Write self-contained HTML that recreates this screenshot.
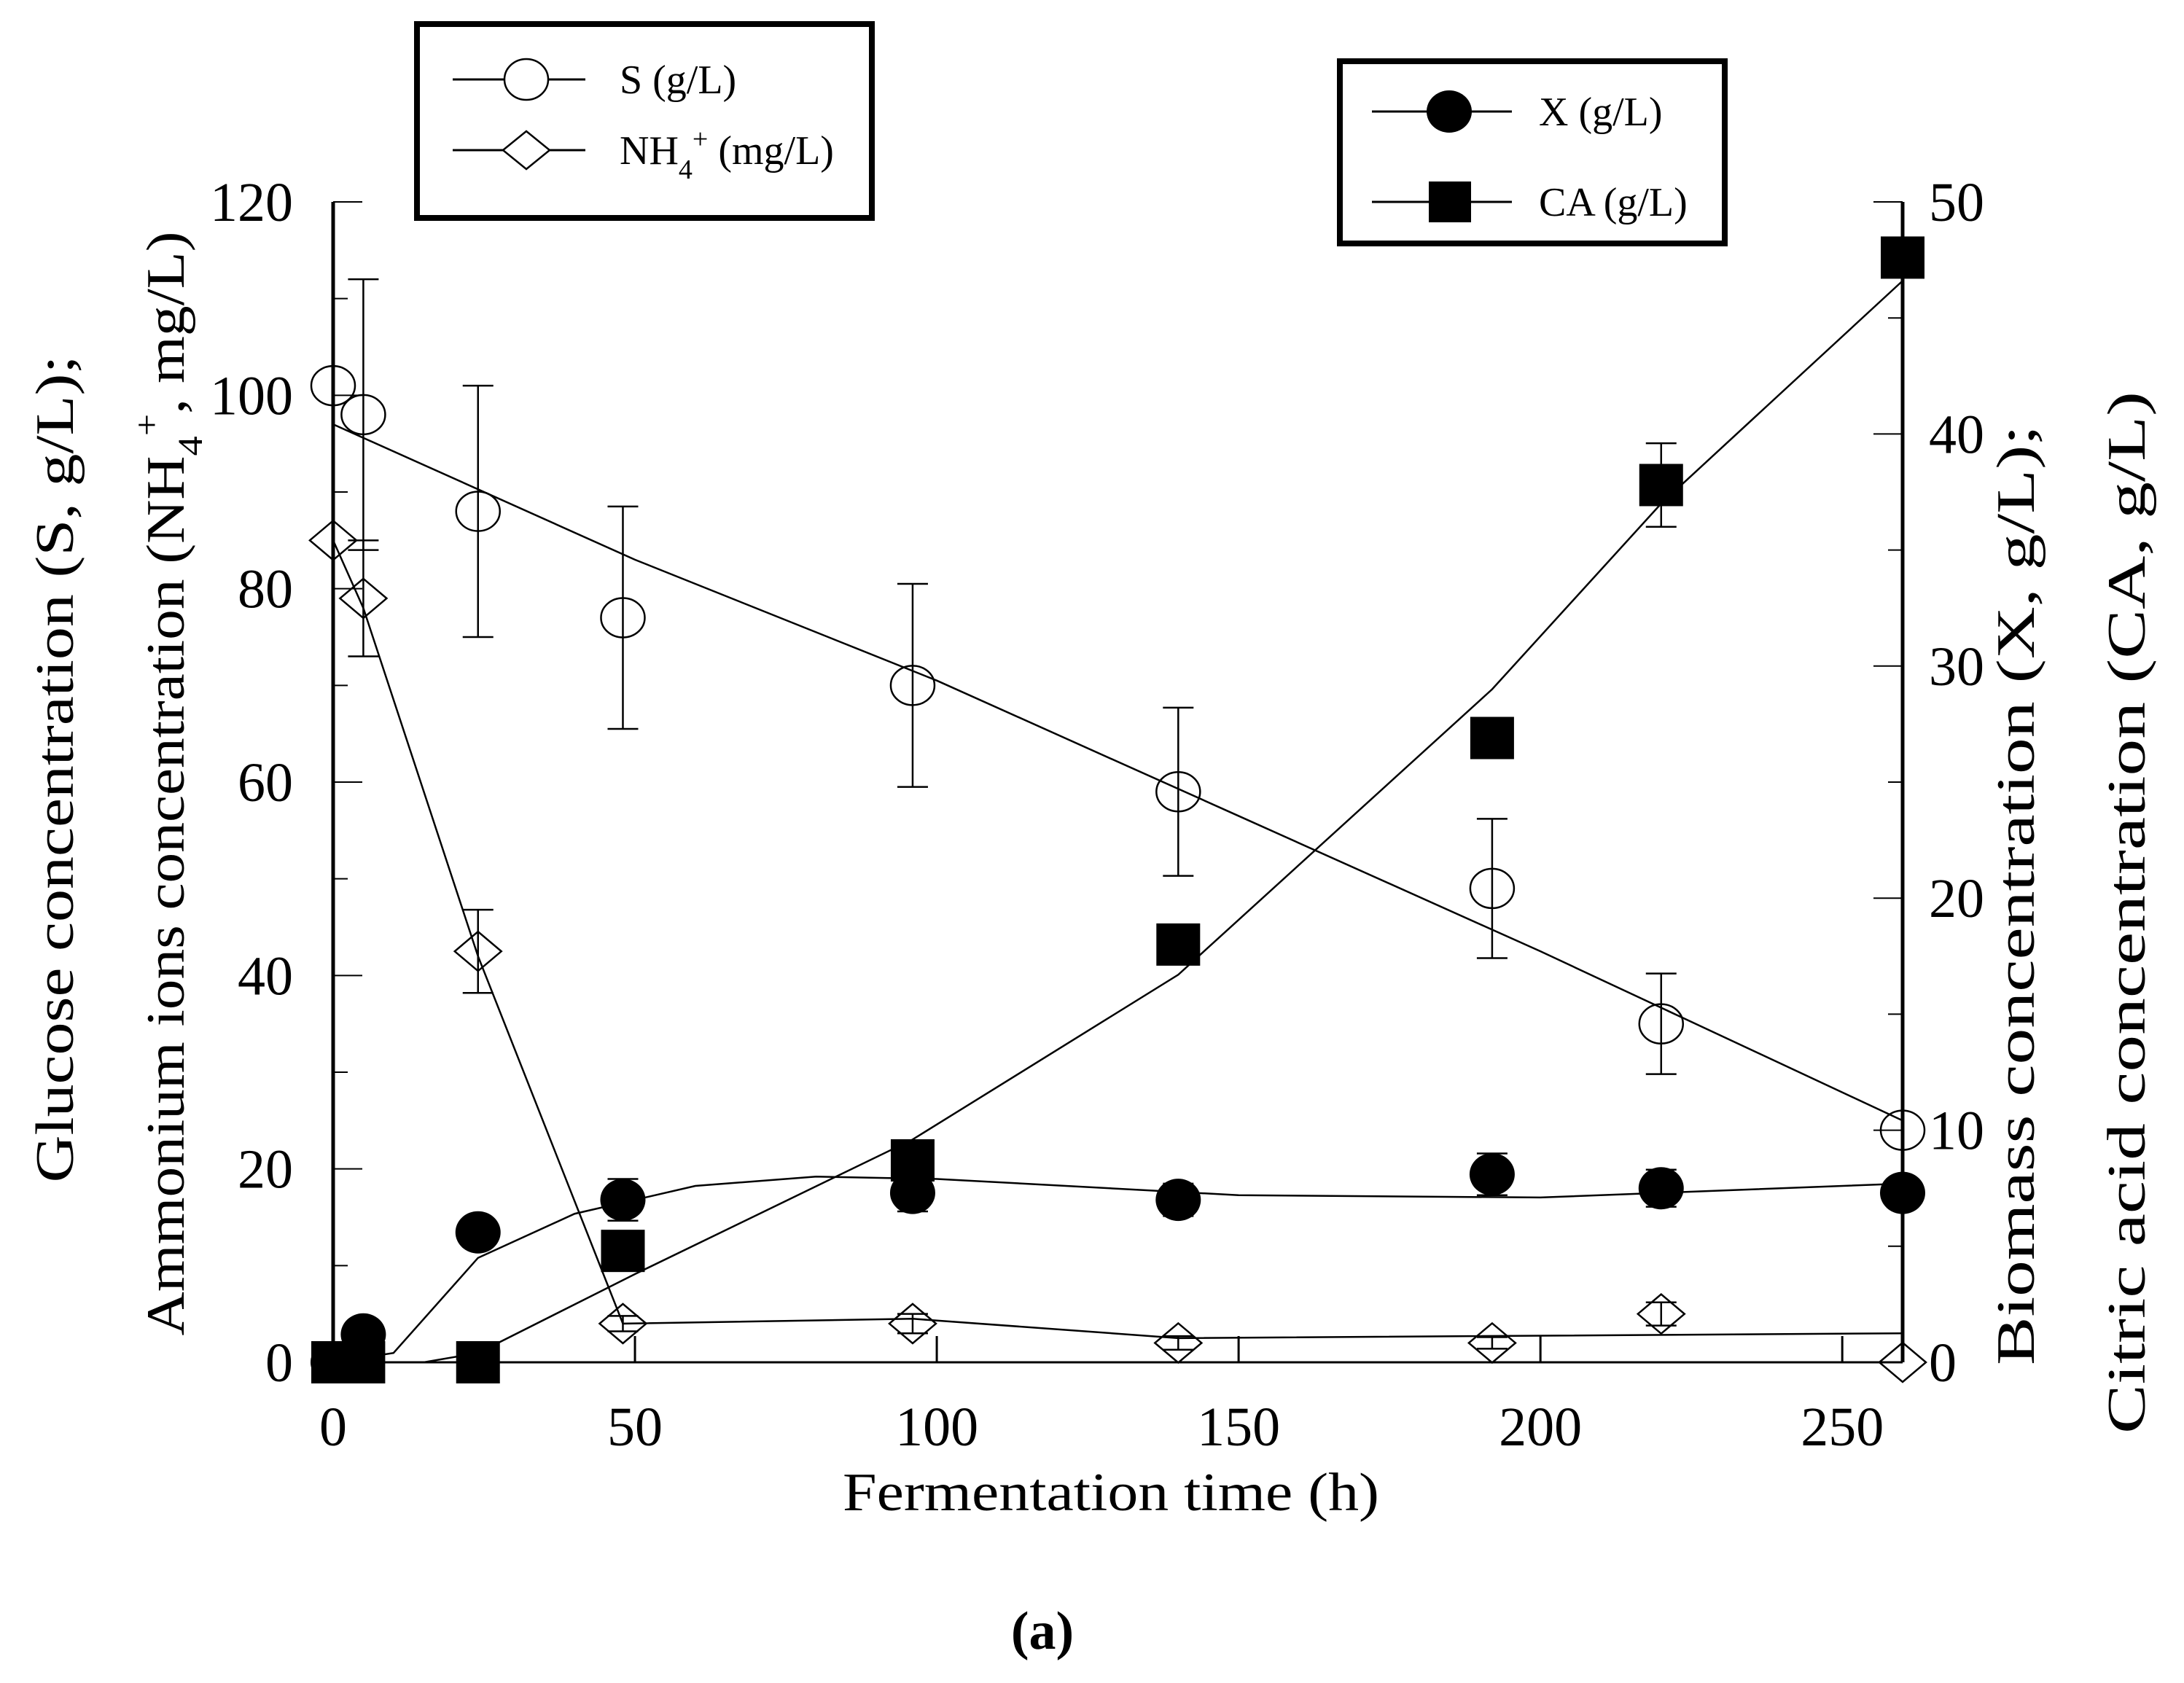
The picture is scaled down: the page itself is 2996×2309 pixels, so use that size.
<!DOCTYPE html>
<html><head><meta charset="utf-8"><style>
html,body{margin:0;padding:0;background:#fff;}
svg{display:block;}
text{font-family:"Liberation Serif",serif;fill:#000;}
</style></head><body>
<svg id="chart" width="2996" height="2309" viewBox="0 0 2996 2309" xmlns="http://www.w3.org/2000/svg">
<g id="axes"></g>
<g id="lines"></g>
<g id="marks"></g>
<text transform="translate(100,1055) rotate(-90)" text-anchor="middle" font-size="74" textLength="1135" lengthAdjust="spacingAndGlyphs">Glucose concentration (S, g/L);</text>
<text transform="translate(252,1075) rotate(-90)" text-anchor="middle" font-size="74" textLength="1515" lengthAdjust="spacingAndGlyphs">Ammonium ions concentration (NH<tspan font-size="48" dy="25">4</tspan><tspan font-size="48" dy="-60">+</tspan><tspan dy="35">, mg/L)</tspan></text>
<text transform="translate(2790,1228) rotate(-90)" text-anchor="middle" font-size="74" textLength="1290" lengthAdjust="spacingAndGlyphs">Biomass concentration (X, g/L);</text>
<text transform="translate(2942,1252) rotate(-90)" text-anchor="middle" font-size="74" textLength="1430" lengthAdjust="spacingAndGlyphs">Citric acid concentration (CA, g/L)</text>
<text x="1524" y="2072" text-anchor="middle" font-size="74" textLength="736" lengthAdjust="spacingAndGlyphs">Fermentation time (h)</text>
<text x="1430" y="2262" text-anchor="middle" font-size="74" font-weight="bold">(a)</text>
<g>
<rect x="572" y="33" width="624" height="266" fill="none" stroke="#000" stroke-width="8"/>
<line x1="621" y1="109" x2="803" y2="109" stroke="#000" stroke-width="3"/>
<ellipse cx="722" cy="109" rx="30" ry="28" fill="#fff" stroke="#000" stroke-width="2.5"/>
<text x="850" y="128" font-size="56">S (g/L)</text>
<line x1="621" y1="206" x2="803" y2="206" stroke="#000" stroke-width="3"/>
<polygon points="690,206 722,180 754,206 722,232" fill="#fff" stroke="#000" stroke-width="2.5"/>
<text x="850" y="225" font-size="56">NH<tspan font-size="38" dy="20">4</tspan><tspan font-size="38" dy="-42">+</tspan><tspan dy="22"> (mg/L)</tspan></text>
</g>
<g>
<rect x="1838" y="84" width="528" height="250" fill="none" stroke="#000" stroke-width="8"/>
<line x1="1882" y1="153" x2="2074" y2="153" stroke="#000" stroke-width="3"/>
<ellipse cx="1988" cy="153" rx="31" ry="29" fill="#000"/>
<text x="2111" y="172" font-size="56">X (g/L)</text>
<line x1="1882" y1="277" x2="2074" y2="277" stroke="#000" stroke-width="3"/>
<rect x="1960" y="249" width="58" height="56" fill="#000"/>
<text x="2111" y="296" font-size="56">CA (g/L)</text>
</g>
</svg>
<script>
const times=[0,5,24,48,96,140,192,220,260];
const sVals=[101,98,88,77,70,59,49,35,24];
const sErr=[0,14,13,11.5,10.5,8.7,7.2,5.2,0];
const nhVals=[85,79,42.5,4,4,2,2,5,0];
const nhErr=[0,6,4.3,0.8,1,0.7,0.6,1.2,0];
const xVals=[0,1.2,5.6,7.0,7.3,7.0,8.1,7.5,7.3];
const xErr=[0,0,0,0.9,0.8,0.7,0.9,0.8,0];
const caVals=[0,0,0,4.8,8.7,18,26.9,37.8,47.6];
const caErr=[0,0,0,0,0,0,0.7,1.8,0];
const sFitT=[0,50,100,150,200,260];
const sFit=[97,83,70.5,56.5,42.5,25];
const nhFitT=[0,5,24,48,96,140,260];
const nhFit=[85,78,42,4,4.5,2.5,3];
const xFitT=[0,10,24,40,60,80,100,150,200,260];
const xFit=[0,0.4,4.5,6.4,7.6,8.0,7.9,7.2,7.1,7.7];
const caFitT=[0,15,24,50,96,140,192,220,260];
const caFit=[0,0,0.4,3.8,9.6,16.7,29,37,46.6];
const xTicks=[0,50,100,150,200,250];
const yLTicks=[0,20,40,60,80,100,120];
const yRTicks=[0,10,20,30,40,50];

const X0=457,X1=2610,Y0=1869,YT=277;
const xs=t=>X0+(X1-X0)*t/260;
const yl=v=>Y0-(Y0-YT)*v/120;
const yr=v=>Y0-(Y0-YT)*v/50;
const NS='http://www.w3.org/2000/svg';
function mk(tag,attrs,parent){const e=document.createElementNS(NS,tag);for(const k in attrs)e.setAttribute(k,attrs[k]);parent.appendChild(e);return e;}
const axes=document.getElementById('axes'),lines=document.getElementById('lines'),marks=document.getElementById('marks');

let e=mk('line',{x1:X0,y1:YT,x2:X0,y2:Y0,stroke:'#000','stroke-width':5},axes);


e=mk('line',{x1:X1,y1:YT,x2:X1,y2:Y0,stroke:'#000','stroke-width':5},axes);


e=mk('line',{x1:X0,y1:Y0,x2:X1,y2:Y0,stroke:'#000','stroke-width':3},axes);


xTicks.forEach(t=>{
  mk('line',{x1:xs(t),y1:Y0,x2:xs(t),y2:Y0-36,stroke:'#000','stroke-width':3},axes);
  const tx=mk('text',{x:xs(t),y:1983,'text-anchor':'middle','font-size':76},axes);
  tx.textContent=t;
  
  
});
yLTicks.forEach(v=>{
  mk('line',{x1:X0,y1:yl(v),x2:X0+40,y2:yl(v),stroke:'#000','stroke-width':2},axes);
  if(v<120)mk('line',{x1:X0,y1:yl(v+10),x2:X0+20,y2:yl(v+10),stroke:'#000','stroke-width':2},axes);
  const tx=mk('text',{x:402,y:yl(v)+26,'text-anchor':'end','font-size':76},axes);
  tx.textContent=v;
  
  
});
yRTicks.forEach(v=>{
  mk('line',{x1:X1,y1:yr(v),x2:X1-40,y2:yr(v),stroke:'#000','stroke-width':2},axes);
  if(v<50)mk('line',{x1:X1,y1:yr(v+5),x2:X1-20,y2:yr(v+5),stroke:'#000','stroke-width':2},axes);
  const tx=mk('text',{x:2646,y:yr(v)+26,'text-anchor':'start','font-size':76},axes);
  tx.textContent=v;
  
  
});
function fitLine(T,V,f,name){
  const p=T.map((t,i)=>xs(t)+','+f(V[i])).join(' ');
  const l=mk('polyline',{points:p,fill:'none',stroke:'#000','stroke-width':2.5},lines);
  
  
}
fitLine(sFitT,sFit,yl,'s-fit-line');
fitLine(nhFitT,nhFit,yl,'nh4-fit-line');
fitLine(xFitT,xFit,yr,'x-fit-line');
fitLine(caFitT,caFit,yr,'ca-fit-line');
function errBars(V,E,f,name){
  times.forEach((t,i)=>{
    if(!E[i])return;
    const cx=xs(t),a=f(V[i]+E[i]),b=f(V[i]-E[i]);
    const g=mk('g',{stroke:'#000','stroke-width':2.5},marks);
    
    
    mk('line',{x1:cx,y1:a,x2:cx,y2:b},g);
    mk('line',{x1:cx-21,y1:a,x2:cx+21,y2:a},g);
    mk('line',{x1:cx-21,y1:b,x2:cx+21,y2:b},g);
  });
}
errBars(sVals,sErr,yl,'s-error-bar');
errBars(nhVals,nhErr,yl,'nh4-error-bar');
errBars(xVals,xErr,yr,'x-error-bar');
errBars(caVals,caErr,yr,'ca-error-bar');
times.forEach((t,i)=>{
  let m=mk('ellipse',{cx:xs(t),cy:yl(sVals[i]),rx:30,ry:27,fill:'none',stroke:'#000','stroke-width':2.5},marks);
  
  
  const cx=xs(t),cy=yl(nhVals[i]);
  m=mk('polygon',{points:`${cx-32},${cy} ${cx},${cy-27} ${cx+32},${cy} ${cx},${cy+27}`,fill:'none',stroke:'#000','stroke-width':2.5},marks);
  
  
});
times.forEach((t,i)=>{
  let m=mk('rect',{x:xs(t)-30,y:yr(caVals[i])-29,width:60,height:58,fill:'#000'},marks);
  
  
  m=mk('ellipse',{cx:xs(t),cy:yr(xVals[i]),rx:31,ry:29,fill:'#000'},marks);
  
  
});
</script>
</body></html>
